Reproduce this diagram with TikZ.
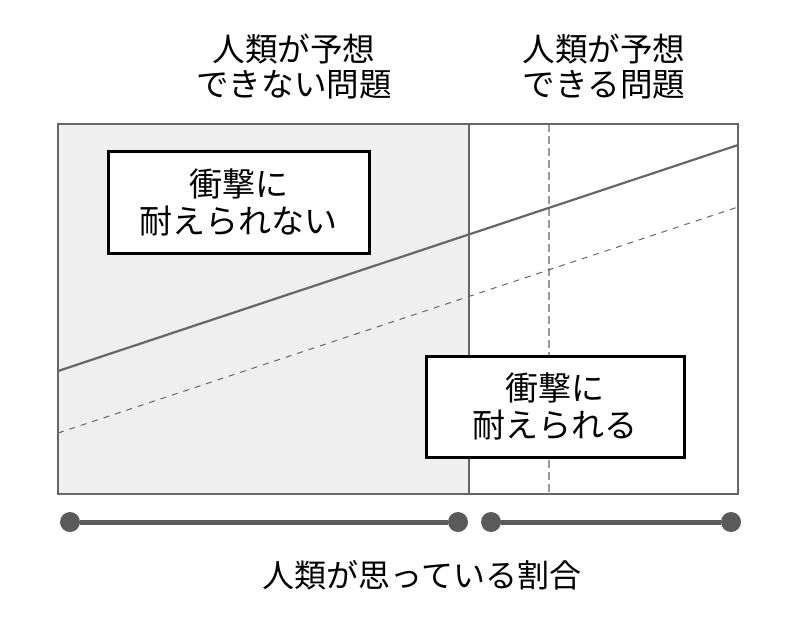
\documentclass[tikz,border=0pt]{standalone}
\usepackage{fontspec}
\setmainfont{Noto Sans CJK JP}
\definecolor{framegray}{HTML}{666666}
\definecolor{regiongray}{HTML}{EFEFEF}
\definecolor{bargray}{HTML}{5A5A5A}
\definecolor{guidegray}{HTML}{999999}

\begin{document}
\begin{tikzpicture}[x=0.5pt, y=-0.5pt, inner sep=0pt,
  label/.style={align=center, font=\fontsize{16.3}{17.5}\selectfont},
  claim/.style={draw=black, line width=1.5pt, fill=white, align=center,
    font=\fontsize{16.5}{18.5}\selectfont},
  dot/.style={circle, fill=bargray, minimum size=10pt},
  ]
  \useasboundingbox (0,0) rectangle (797,623);
  % regions
  \fill[regiongray] (58,124) rectangle (469,494);
  \draw[guidegray, dash pattern=on 4pt off 2pt, line width=0.6pt] (549,124) -- (549,494);
  \draw[framegray, line width=1pt] (58,124) rectangle (738,494);
  \draw[framegray, line width=1pt] (469,124) -- (469,494);
  % required vs. actual
  \draw[framegray, line width=1.1pt] (58,371) -- (738,145);
  \draw[framegray, dashed, line width=0.5pt] (58,433) -- (738,207);
  \node[claim, minimum width=130.5pt, minimum height=51pt] (fail) at (238.5,202)
    {衝撃に\\耐えられない};
  \node[claim, minimum width=129pt, minimum height=50.5pt] (hold) at (555,406.5)
    {衝撃に\\耐えられる};
  % headers
  \node[label] (unknown) at (294,67) {人類が予想\\できない問題};
  \node[label] (known) at (604,67) {人類が予想\\できる問題};
  % ratio bar
  \node[dot] (u0) at (70,522) {};
  \node[dot] (u1) at (458,522) {};
  \node[dot] (k0) at (491,522) {};
  \node[dot] (k1) at (731,522) {};
  \draw[bargray, line width=2.5pt] (u0) -- (u1);
  \draw[bargray, line width=2.5pt] (k0) -- (k1);
  \node[label, font=\fontsize{16}{18}\selectfont] (ratio) at (422,575)
    {人類が思っている割合};
\end{tikzpicture}
\end{document}
